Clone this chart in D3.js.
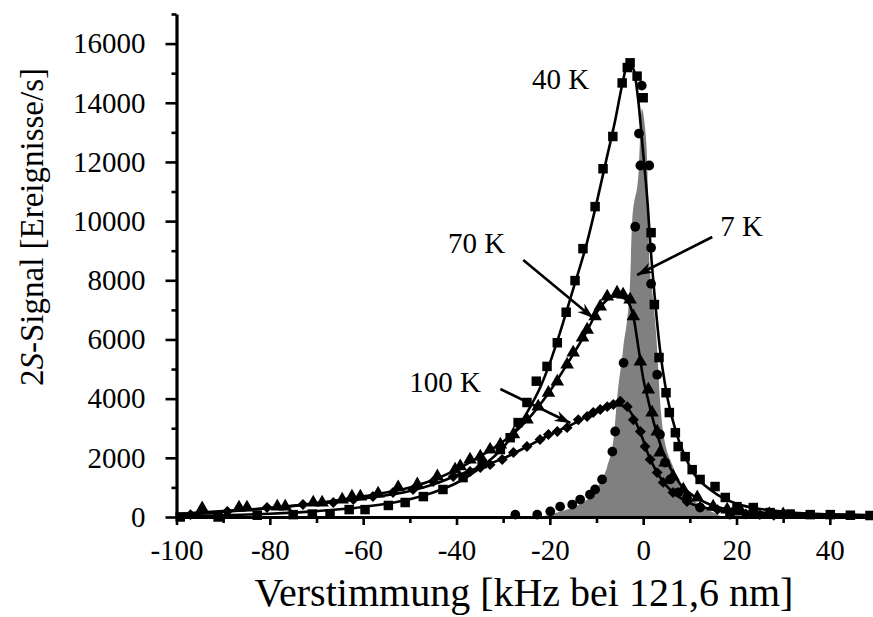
<!DOCTYPE html>
<meta charset="utf-8">
<style>
body { margin: 0; background: #fff; }
text { font-family: "Liberation Serif", "DejaVu Serif", serif; fill: #000; }
.axis path, .axis line { stroke: #000; }
.axis text { font-size: 29px; }
.fit { fill: none; stroke: #000; stroke-width: 2.6px; }
.lbl { font-size: 29px; }
</style>
<svg width="873" height="617"></svg>
<script src="https://d3js.org/d3.v7.min.js"></script>
<script>
// tick values
const xTicks = [-100, -80, -60, -40, -20, 0, 20, 40];
const xMinor = [-90, -70, -50, -30, -10, 10, 30, 50];
const yTicks = [0, 2000, 4000, 6000, 8000, 10000, 12000, 14000, 16000];
const yMinor = [1000, 3000, 5000, 7000, 9000, 11000, 13000, 15000, 17000];

// 40 K: measured points [kHz, counts/s]
const k40 = [[-99.2,0],[-91.1,0],[-82.7,60],[-75,80],[-70.9,100],[-67.1,100],[-63,250],[-59.6,250],
  [-54.6,390],[-51,490],[-47.1,690],[-42.9,930],[-38.6,1330],[-34.5,1800],[-30.6,2280],[-28.5,2680],
  [-26.8,3190],[-24.9,3870],[-22.9,4590],[-20.6,5090],[-18.4,5890],[-16.5,6920],[-14.6,7990],[-12.9,9070],
  [-10.3,10490],[-8.6,11770],[-6.5,12860],[-4.5,14670],[-3.4,15190],[-2.8,15350],[-1.3,14900],[0,14170],
  [1.7,9610],[2.4,7180],[3.4,5390],[4.9,4200],[5.6,3530],[6.9,2850],[7.5,2380],[9.0,2040],[10.5,1600],
  [12.2,1270],[15.4,1030],[17.6,660],[20.1,350],[23.6,320],[27.2,150],[31.5,100],[35.8,80],[40.1,80],
  [44.4,60],[48.6,50]];
// 40 K: fitted curve
const k40fit = [[-100,30],[-90,60],[-80,110],[-70,200],[-60,340],[-50,600],[-45,830],[-40,1150],[-35,1650],
  [-30,2350],[-25,3500],[-22,4400],[-20,5200],[-18.5,5900],[-15,7700],[-12,9300],[-10,10600],[-8,12000],
  [-6,13400],[-4.5,14600],[-3.2,15350],[-2,15100],[-1,14000],[0,12300],[1,10500],[1.5,9300],[2.5,7400],
  [3.5,5800],[5,4200],[7,2900],[10,1700],[15,850],[20,450],[30,180],[40,90],[50,50]];

// 70 K
const k70 = [[-94.5,290],[-86.6,320],[-84.9,320],[-78.4,350],[-76.7,350],[-70.7,490],[-68.8,490],[-64.5,590],
  [-62.4,690],[-60.6,690],[-56.8,790],[-52.5,1000],[-48.4,1100],[-44.1,1370],[-40.3,1600],[-39.2,1710],
  [-37.1,1940],[-34.9,2040],[-32.8,2280],[-30.6,2450],[-27.8,2790],[-24.9,3290],[-22.5,3730],[-20.3,4200],
  [-18.4,4580],[-16.3,5150],[-15,5560],[-13,6060],[-12,6330],[-10.3,6780],[-9.2,7110],[-7.7,7450],
  [-5.6,7580],[-4.3,7520],[-2.8,7350],[-2.1,6780],[-0.6,5250],[1.1,4310],[1.9,3530],[3.0,2890],[3.6,2180],
  [4.7,1840],[6.4,1370],[8.6,930],[11.6,660],[15,350],[18,250],[21,180],[24,120],[27,100],[30,90]];
const k70fit = [[-100,100],[-90,200],[-80,300],[-70,470],[-60,700],[-50,1000],[-45,1250],[-40,1600],
  [-35,2050],[-30,2550],[-25,3250],[-20,4250],[-15,5500],[-12,6300],[-10,6900],[-8,7300],[-6,7450],
  [-4.5,7420],[-3,7200],[-2,6700],[-1,5700],[0,4700],[1,4000],[2,3350],[3,2800],[4,2300],[6,1600],
  [8,1100],[10,800],[15,380],[20,220],[30,120],[40,80],[50,60]];

// 100 K
const k100 = [[-97,80],[-89.1,190],[-80.6,320],[-72.9,420],[-66.4,490],[-62.1,590],[-57.9,690],[-53.6,830],
  [-49.3,930],[-45,1200],[-40.7,1370],[-37.1,1540],[-34.9,1670],[-32.8,1770],[-30.2,1940],[-27.8,2180],
  [-24.9,2380],[-22.1,2620],[-20.3,2790],[-18.4,2890],[-16.3,3020],[-13.9,3290],[-12,3400],[-10.7,3530],
  [-9.2,3630],[-7.7,3730],[-6.4,3800],[-4.9,3910],[-3.4,3730],[-2.1,3290],[-0.6,2890],[0.4,2380],
  [1.5,1940],[3,1500],[4.3,1170],[6.4,830],[9.4,520],[12.2,350],[15.9,250],[19,150],[22,100],[25,80],[28,60]];
const k100fit = [[-100,50],[-90,170],[-80,300],[-70,450],[-60,620],[-50,880],[-45,1100],[-40,1400],
  [-35,1680],[-30,1980],[-25,2370],[-20,2780],[-15,3150],[-12,3400],[-9,3620],[-6.5,3760],[-5,3780],
  [-3.5,3700],[-2,3350],[-1,3000],[0,2600],[1,2150],[2,1800],[3,1500],[5,1050],[7,750],[10,470],
  [15,250],[20,140],[30,80],[50,40]];

// 7 K
const k7 = [[-27.4,80],[-22.7,80],[-19.9,190],[-17.8,350],[-15.2,420],[-13.5,590],[-11.4,760],[-10.3,930],
  [-8.8,1270],[-6.6,2210],[-6.0,2890],[-4.2,5210],[-1.7,9810],[-0.9,12960],[-0.3,14580],[-0.6,11880],
  [1.3,11880],[1.7,9100],[1.7,7880],[3.0,4810],[3.6,2790],[4.7,1840],[5.8,1270],[7.5,830],[9.4,660],
  [12.2,320],[18.6,80]];
const k7fit = [[-22,0],[-18.4,150],[-15,330],[-12,590],[-9.2,1170],[-7.7,1710],[-6.2,2860],[-5.6,3980],
  [-4.3,5660],[-2.8,7940],[-2.4,9850],[-0.9,11850],[-0.3,13800],[0.3,13300],[0.9,11850],[1.1,9850],
  [1.5,8200],[1.9,7700],[3.0,5660],[3.6,3980],[4.3,2860],[6.4,1710],[7.9,1170],[10.7,590],[15,150],[17,0]];

// labels: [text, x, y]  arrows: [x1, y1, x2, y2]
const labels = [["40 K", -23.8, 14465], ["70 K", -41.8, 8922], ["100 K", -50.1, 4224], ["7 K", 16.5, 9497]];
const arrows = [[-25.7, 8686, -10.7, 6725], [-30.6, 4326, -15.6, 3177], [14.8, 9463, -1.3, 8179]];

const svg = d3.select("svg");
const serif = "Liberation Serif, DejaVu Serif, serif";
const x = d3.scaleLinear().domain([-100, 50]).range([176.5, 876.5]);
const y = d3.scaleLinear().domain([0, 17000]).range([517, 14]);

// gray 7 K fit
svg.append("path")
  .datum(k7fit)
  .attr("fill", "#808080")
  .attr("d", d3.area().x(d => x(d[0])).y0(y(0)).y1(d => y(d[1])).curve(d3.curveMonotoneX));

const line = d3.line().x(d => x(d[0])).y(d => y(d[1])).curve(d3.curveMonotoneX);
[k100fit, k70fit, k40fit].forEach(f => {
  svg.append("path").datum(f).attr("class", "fit").attr("d", line);
});

function points(data, type, size, rot) {
  svg.append("g").selectAll("path")
    .data(data)
    .join("path")
    .attr("d", d3.symbol().type(type).size(size))
    .attr("transform", d => `translate(${x(d[0])},${y(d[1])}) rotate(${rot})`)
    .attr("fill", "#000");
}
points(k100, d3.symbolSquare, 60, 45);
points(k70, d3.symbolTriangle, 80, 0);
points(k7, d3.symbolCircle, 75, 0);
points(k40, d3.symbolSquare, 90, 0);

// axes
const fmt = d => String(d);
const yAxis = svg.append("g").attr("class", "axis")
  .attr("transform", `translate(${x(-100)},0)`)
  .call(d3.axisLeft(y).tickValues(yTicks).tickFormat(fmt).tickSize(11).tickPadding(20).tickSizeOuter(0));
yAxis.selectAll(".tick line").attr("stroke-width", 2.6);
yAxis.select(".domain").remove();
svg.append("g").attr("class", "axis")
  .attr("transform", `translate(${x(-100)},0)`)
  .call(d3.axisLeft(y).tickValues(yMinor).tickSize(5).tickFormat("").tickSizeOuter(0))
  .call(g => g.selectAll(".tick line").attr("stroke-width", 2.6))
  .select(".domain").attr("stroke-width", 3.2);

const xAxis = svg.append("g").attr("class", "axis")
  .attr("transform", `translate(0,${y(0)})`)
  .call(d3.axisBottom(x).tickValues(xTicks).tickFormat(fmt).tickSize(8).tickPadding(14).tickSizeOuter(0));
xAxis.selectAll(".tick line").attr("stroke-width", 2.6);
xAxis.select(".domain").attr("stroke-width", 3.2);
svg.append("g").attr("class", "axis")
  .attr("transform", `translate(0,${y(0)})`)
  .call(d3.axisBottom(x).tickValues(xMinor).tickSize(6).tickFormat("").tickSizeOuter(0))
  .call(g => g.selectAll(".tick line").attr("stroke-width", 2.6))
  .select(".domain").remove();
svg.selectAll(".axis").attr("font-family", serif).attr("font-size", 29);

// axis titles
svg.append("text")
  .attr("x", 524).attr("y", 606)
  .attr("text-anchor", "middle")
  .attr("font-family", serif)
  .attr("font-size", 40)
  .text("Verstimmung [kHz bei 121,6 nm]");

const yt = svg.append("text")
  .attr("transform", "translate(43,227) rotate(-90)")
  .attr("text-anchor", "middle")
  .attr("font-family", serif)
  .attr("font-size", 33);
yt.append("tspan").text("2");
yt.append("tspan").attr("font-style", "italic").text("S");
yt.append("tspan").text("-Signal [Ereignisse/s]");

// annotations
svg.append("defs").append("marker")
  .attr("id", "ah")
  .attr("viewBox", "-16 -6 18 12")
  .attr("refX", 0).attr("refY", 0)
  .attr("markerWidth", 18).attr("markerHeight", 12)
  .attr("markerUnits", "userSpaceOnUse")
  .attr("orient", "auto")
  .append("path")
  .attr("d", "M0,0 L-16,-5.5 L-11,0 L-16,5.5 Z")
  .attr("fill", "#000");

svg.append("g").selectAll("line")
  .data(arrows)
  .join("line")
  .attr("x1", d => x(d[0])).attr("y1", d => y(d[1]))
  .attr("x2", d => x(d[2])).attr("y2", d => y(d[3]))
  .attr("stroke", "#000").attr("stroke-width", 2.6)
  .attr("marker-end", "url(#ah)");

svg.append("g").selectAll("text")
  .data(labels)
  .join("text")
  .attr("class", "lbl")
  .attr("font-family", serif)
  .attr("x", d => x(d[1])).attr("y", d => y(d[2]))
  .text(d => d[0]);
</script>
